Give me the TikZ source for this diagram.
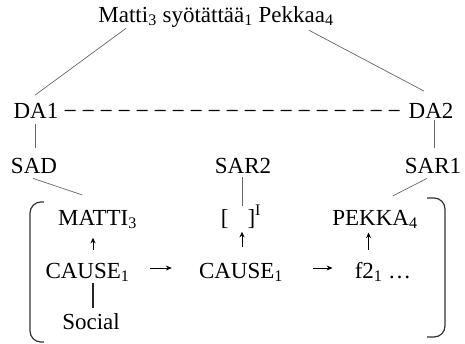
\documentclass[tikz,border=0pt]{standalone}
\usepackage{fontspec}
\setmainfont{Liberation Serif}
\usetikzlibrary{arrows.meta}
\begin{document}
\begin{tikzpicture}[x=1pt,y=-1pt,
  lbl/.style={anchor=base,inner sep=0pt,font=\fontsize{23}{27}\selectfont},
  thin/.style={draw=black!60,line width=0.7pt},
  uparr/.style={draw=black,line width=0.8pt,-{Stealth[length=5.5pt,width=5pt]}},
  harr/.style={draw=black,line width=0.8pt,-{Stealth[length=6pt,width=5pt]}},
  brk/.style={draw=black!80,line width=1.2pt,rounded corners=11pt}]
\useasboundingbox (0,0) rectangle (465,343);
% texts
\node[lbl] (top) at (216,22) {Matti\textsubscript{3} syötättää\textsubscript{1} Pekkaa\textsubscript{4}};
\node[lbl] (DA1) at (36,118) {DA1};
\node[lbl] (DA2) at (431,118) {DA2};
\node[lbl] (SAD) at (34,173) {SAD};
\node[lbl] (SAR2) at (243,173) {SAR2};
\node[lbl] (SAR1) at (433,173) {SAR1};
\node[lbl] (M1) at (97.5,225) {MATTI\textsubscript{3}};
\node[lbl] (GAP) at (241,225) {[\hspace{19pt}]\textsuperscript{I}};
\node[lbl] (P1) at (375,225) {PEKKA\textsubscript{4}};
\node[lbl] (C1) at (87.5,278) {CAUSE\textsubscript{1}};
\node[lbl] (C2) at (241,278) {CAUSE\textsubscript{1}};
\node[lbl] (F2) at (383,278) {f2\textsubscript{1} …};
\node[lbl] (SOC) at (91,329) {Social};
\coordinate (gaptop) at (242,206);
% connectors
\draw[thin] ([xshift=28pt,yshift=-1pt]top.south west) -- ([xshift=-1pt,yshift=7.5pt]DA1.north);
\draw[thin] ([xshift=-25pt,yshift=-3pt]top.south east) -- ([xshift=-7pt,yshift=11.5pt]DA2.north);
\draw[line width=1.2pt,dash pattern=on 11pt off 7pt,shorten <=6pt,shorten >=3pt] (DA1.east) -- (DA2.west);
\draw[thin,shorten <=6pt,shorten >=10pt] ([xshift=-1pt]DA1.south) -- ([xshift=-1pt]DA1.south |- SAD.north);
\draw[thin,shorten <=2pt,shorten >=10pt] ([xshift=3pt]DA2.south) -- ([xshift=3pt]DA2.south |- SAR1.north);
\draw[thin] ([xshift=-1pt,yshift=-5pt]SAD.south) -- ([xshift=-15.5pt,yshift=14.8pt]M1.north);
\draw[thin,shorten <=4pt] ([xshift=-1pt]SAR2.south) -- (gaptop);
\draw[thin] ([xshift=-6pt,yshift=-5pt]SAR1.south) -- ([xshift=18pt,yshift=13.8pt]P1.north);
\draw[uparr] ([xshift=5.5pt,yshift=12.8pt]C1.north) -- ([xshift=5.5pt,yshift=24.8pt]C1.north);
\draw[uparr] ([xshift=1pt,yshift=15.8pt]C2.north) -- ([xshift=1pt,yshift=30.8pt]C2.north);
\draw[uparr] ([xshift=14pt,yshift=12pt]F2.north west) -- ([xshift=14pt,yshift=29pt]F2.north west);
\draw[harr,shorten <=20pt,shorten >=27pt] ([yshift=10pt]C1.base east) -- ([yshift=10pt]C2.base west);
\draw[harr,shorten <=30pt,shorten >=22pt] ([yshift=10pt]C2.base east) -- ([yshift=10pt]F2.base west);
\draw[line width=1.3pt,black!85] ([xshift=5.5pt,yshift=-5pt]C1.base) -- ([xshift=2pt,yshift=5.3pt]SOC.north);
% brackets
\draw[brk] (44,202) -- (30,202) -- (30,342) -- (44,342);
\draw[brk] (427,198) -- (445,198) -- (445,337) -- (427,337);
\end{tikzpicture}
\end{document}
